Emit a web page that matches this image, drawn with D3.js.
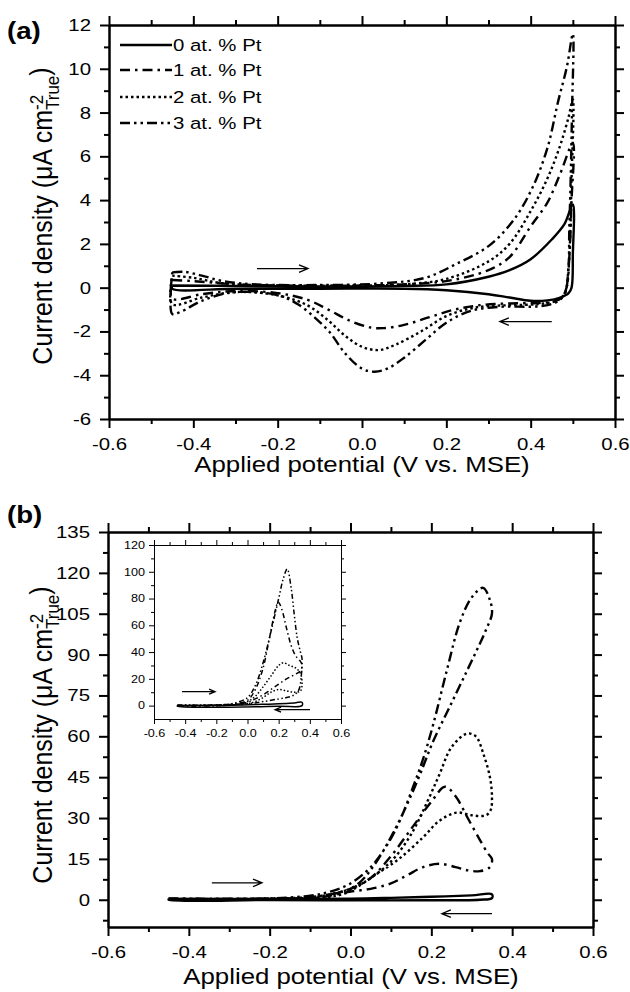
<!DOCTYPE html>
<html>
<head>
<meta charset="utf-8">
<script src="https://cdn.jsdelivr.net/npm/d3@7"></script>
<style>
body { margin: 0; background: #fff; }
text { font-family: "Liberation Sans", Arial, sans-serif; fill: #000; }
</style>
</head>
<body>
<div id="chart"></div>
<script>
// cyclic voltammograms, each loop = [potential (V vs. MSE), current density (uA cm-2)]
// panel (a)
var a0 = [[-0.45,0.1],[-0.3,0.08],[-0.1,0.06],[0.1,0.08],[0.2,0.15],[0.3,0.5],[0.35,0.8],[0.4,1.3],[0.45,2.2],[0.48,2.9],[0.5,3.8],
          [0.5,1.5],[0.497,0],[0.49,-0.25],[0.47,-0.45],[0.44,-0.58],[0.4,-0.6],[0.35,-0.45],[0.3,-0.3],[0.2,-0.12],[0.1,-0.05],
          [-0.1,-0.05],[-0.3,-0.05],[-0.45,-0.05],[-0.45,0.1]];
var a1 = [[-0.45,0.35],[-0.4,0.3],[-0.3,0.15],[-0.2,0.1],[0,0.1],[0.1,0.15],[0.2,0.3],[0.3,0.8],[0.35,1.4],[0.4,2.8],[0.44,3.9],[0.47,5.2],[0.5,6.6],
          [0.497,4],[0.49,1],[0.48,-0.3],[0.46,-0.6],[0.42,-0.7],[0.35,-0.72],[0.28,-0.8],[0.22,-1.0],[0.16,-1.35],[0.1,-1.7],[0.05,-1.85],[0.02,-1.82],
          [-0.03,-1.5],[-0.08,-1.0],[-0.13,-0.55],[-0.2,-0.25],[-0.3,-0.15],[-0.38,-0.3],[-0.45,-0.5],[-0.45,0.35]];
var a2 = [[-0.45,0.55],[-0.4,0.45],[-0.33,0.2],[-0.2,0.1],[0,0.1],[0.1,0.15],[0.2,0.4],[0.3,1.2],[0.35,2.0],[0.4,3.5],[0.44,5.0],[0.47,6.5],[0.49,7.8],[0.5,8.6],
          [0.497,5],[0.49,1],[0.48,-0.3],[0.46,-0.6],[0.42,-0.75],[0.35,-0.8],[0.27,-0.9],[0.2,-1.3],[0.14,-2.0],[0.08,-2.6],[0.04,-2.85],[0,-2.7],
          [-0.04,-2.2],[-0.08,-1.5],[-0.13,-0.8],[-0.2,-0.35],[-0.3,-0.2],[-0.38,-0.45],[-0.45,-0.75],[-0.45,0.55]];
var a3 = [[-0.45,0.7],[-0.42,0.72],[-0.38,0.55],[-0.33,0.3],[-0.25,0.15],[-0.1,0.12],[0.05,0.2],[0.15,0.45],[0.225,1.1],[0.3,1.9],[0.36,3.1],[0.405,4.6],[0.44,6.4],[0.465,8.5],[0.486,10.1],[0.5,11.6],
          [0.498,8],[0.492,3],[0.485,0],[0.47,-0.55],[0.44,-0.8],[0.4,-0.87],[0.33,-0.87],[0.26,-1.05],[0.2,-1.6],[0.15,-2.4],[0.1,-3.2],[0.06,-3.7],[0.03,-3.84],[0,-3.7],
          [-0.04,-3.0],[-0.076,-2.05],[-0.11,-1.4],[-0.15,-0.78],[-0.19,-0.4],[-0.25,-0.2],[-0.32,-0.25],[-0.38,-0.6],[-0.43,-1.1],[-0.45,-1.2],[-0.45,0.7]];

// panel (b)
var b0 = [[-0.45,0.3],[-0.2,0.3],[0,0.4],[0.1,0.7],[0.2,1.1],[0.3,1.6],[0.35,2.0],[0.35,0.6],[0.32,0],[0.2,-0.2],[0,-0.2],[-0.2,-0.1],[-0.45,0],[-0.45,0.3]];
var b1 = [[-0.45,0.3],[-0.2,0.4],[-0.1,0.8],[-0.05,2],[0,4],[0.05,8],[0.1,16],[0.15,26],[0.2,36],[0.234,41.5],[0.26,38],[0.29,30],[0.32,22],[0.34,17],[0.35,15],
          [0.345,12],[0.32,10.5],[0.29,10.8],[0.26,12],[0.22,13.2],[0.18,12],[0.14,9],[0.1,6],[0.05,4],[0,3],[-0.05,1.5],[-0.1,0.5],[-0.45,0]];
var b2 = [[-0.45,0.3],[-0.2,0.3],[-0.1,0.8],[-0.05,2],[0,4],[0.05,8],[0.1,14],[0.15,24],[0.19,36],[0.22,46],[0.25,56],[0.288,61],[0.31,60],[0.33,53],[0.345,45],[0.35,38],
          [0.347,33],[0.335,31],[0.3,31],[0.263,32],[0.22,29],[0.18,23],[0.12,15],[0.06,9],[0.02,5],[-0.02,2],[-0.1,0.5],[-0.45,0]];
var b3 = [[-0.45,0.5],[-0.2,0.5],[-0.1,1.5],[-0.05,3],[0,6],[0.05,12],[0.09,20],[0.122,29],[0.155,41.5],[0.179,51.4],[0.204,64],[0.238,84],[0.271,102],[0.3,111],[0.328,114.5],[0.345,110],[0.35,105],
          [0.335,99],[0.32,94],[0.288,84],[0.246,71],[0.204,58],[0.172,46],[0.14,35],[0.1,23],[0.06,13],[0.02,6],[-0.02,3],[-0.1,1],[-0.45,0.2]];

// inset of (b)
var i0 = [[-0.45,0],[-0.1,0.3],[0.1,1],[0.3,2],[0.35,2.5],[0.35,0],[0.2,-0.5],[-0.45,-0.5],[-0.45,0]];
var i1 = [[-0.45,0],[-0.2,0.3],[-0.1,1],[0,4],[0.05,12],[0.1,28],[0.14,50],[0.18,72],[0.197,77.5],[0.22,72],[0.25,58],[0.28,45],[0.31,37],[0.34,33],[0.35,30],
          [0.34,26],[0.3,23],[0.25,20],[0.2,16],[0.15,12],[0.1,8],[0.05,5],[0,2.5],[-0.1,0.5],[-0.45,-0.5]];
var i2 = [[-0.45,0],[-0.1,0.5],[0,3],[0.05,7],[0.1,14],[0.15,22],[0.2,30],[0.23,32],[0.27,30],[0.31,28],[0.34,24],[0.35,16],
          [0.34,11],[0.3,10],[0.25,11],[0.2,12],[0.15,10],[0.1,6],[0.05,3],[0,1.5],[-0.45,0]];
var i3 = [[-0.45,0.5],[-0.2,0.5],[-0.1,1.5],[0,6],[0.05,15],[0.1,32],[0.15,55],[0.2,80],[0.23,95],[0.255,102],[0.28,88],[0.3,68],[0.32,50],[0.34,40],[0.35,35],
          [0.345,22],[0.33,12],[0.3,8],[0.25,6],[0.2,5],[0.1,3],[0,1.5],[-0.45,0]];

var legendLabels = ["0 at. % Pt", "1 at. % Pt", "2 at. % Pt", "3 at. % Pt"];
var xTicks = [-0.6, -0.4, -0.2, 0.0, 0.2, 0.4, 0.6];
var xMinor = [-0.5, -0.3, -0.1, 0.1, 0.3, 0.5];
var yTicksA = [-6, -4, -2, 0, 2, 4, 6, 8, 10, 12];
var yMinorA = [-5, -3, -1, 1, 3, 5, 7, 9, 11];
var yTicksB = [0, 15, 30, 45, 60, 75, 90, 105, 120, 135];
var yMinorB = [-7.5, 7.5, 22.5, 37.5, 52.5, 67.5, 82.5, 97.5, 112.5, 127.5];
var yTicksIn = [0, 20, 40, 60, 80, 100, 120];
var yMinorIn = [10, 30, 50, 70, 90, 110];

var SX = 1.2; // text in the figure is a bit wider than plain Arial

var svg = d3.select("#chart").append("svg").attr("width", 630).attr("height", 992);

// line styles: solid, dash-dot, dotted, dash-dot-dot
var dashes = [null, "10,5,2.5,5", "2.5,3", "10,4,2.5,4,2.5,4"];
var dashesSmall = [null, "5,3,1.5,3", "1.5,2", "5,2.5,1.5,2.5,1.5,2.5"];

// plain hyphen for negative numbers, like the original
var fx = function (d) { return d3.format(".1f")(d).replace("\u2212", "-"); };
var fy = function (d) { return String(d); };

function frame(g, x, y, o) {
    var w = x.range()[1], h = y.range()[0];
    var sw = o.sw;
    function put(axis, tr) {
        var a = g.append("g").attr("transform", tr).call(axis);
        a.select(".domain").attr("stroke-width", sw).attr("stroke", "#000");
        a.selectAll(".tick line").attr("stroke-width", sw);
        return a;
    }
    // minor ticks
    put(d3.axisBottom(x).tickValues(xMinor).tickSize(o.minor).tickSizeOuter(0).tickFormat(""), `translate(0,${h})`);
    put(d3.axisTop(x).tickValues(xMinor).tickSize(o.minor).tickSizeOuter(0).tickFormat(""), "translate(0,0)");
    put(d3.axisLeft(y).tickValues(o.yMinor).tickSize(o.minor).tickSizeOuter(0).tickFormat(""), "translate(0,0)");
    put(d3.axisRight(y).tickValues(o.yMinor).tickSize(o.minor).tickSizeOuter(0).tickFormat(""), `translate(${w},0)`);
    // major ticks
    var bx = put(d3.axisBottom(x).tickValues(xTicks).tickSize(o.major).tickSizeOuter(0).tickPadding(o.padX).tickFormat(fx), `translate(0,${h})`);
    put(d3.axisTop(x).tickValues(xTicks).tickSize(o.major).tickSizeOuter(0).tickFormat(""), "translate(0,0)");
    var ly = put(d3.axisLeft(y).tickValues(o.yTicks).tickSize(o.major).tickSizeOuter(0).tickFormat(fy), "translate(0,0)");
    put(d3.axisRight(y).tickValues(o.yTicks).tickSize(o.major).tickSizeOuter(0).tickFormat(""), `translate(${w},0)`);
    bx.selectAll("text").attr("font-size", null).style("font-size", o.font + "px")
        .attr("transform", `scale(${SX},1)`);
    ly.selectAll("text").attr("font-size", null).style("font-size", o.font + "px")
        .attr("x", -o.padY / SX).attr("transform", `scale(${SX},1)`);
}

function curves(g, x, y, sets, width, dsh) {
    var line = d3.line()
        .x(function (d) { return x(d[0]); })
        .y(function (d) { return y(d[1]); })
        .curve(d3.curveCatmullRom.alpha(0.5));
    sets.forEach(function (s, i) {
        g.append("path")
            .attr("d", line(s))
            .attr("fill", "none")
            .attr("stroke", "#000")
            .attr("stroke-width", width)
            .attr("stroke-linejoin", "round")
            .attr("stroke-dasharray", dsh[i]);
    });
}

function arrow(g, x1, y1, x2, y2, head) {
    var dir = x2 > x1 ? -1 : 1;
    g.append("path")
        .attr("d", `M${x1},${y1}L${x2},${y2}M${x2 + dir * head},${y1 - head * 0.42}L${x2},${y2}L${x2 + dir * head},${y1 + head * 0.42}`)
        .attr("fill", "none").attr("stroke", "#000").attr("stroke-width", 1.3);
}

function txt(g, x, y, s, size, anchor, weight) {
    return g.append("text")
        .attr("transform", `translate(${x},${y}) scale(${SX},1)`)
        .attr("text-anchor", anchor)
        .style("font-size", size + "px")
        .style("font-weight", weight || "normal")
        .text(s);
}

function yTitle(g, x, y, size) {
    var t = g.append("text")
        .attr("transform", `translate(${x},${y}) scale(1.1,1) rotate(-90)`)
        .attr("text-anchor", "middle")
        .style("font-size", size + "px");
    t.append("tspan").text("Current density (\u03bcA cm");
    var sup = t.append("tspan").attr("dy", "-0.5em").style("font-size", (size * 0.68) + "px").text("-2");
    var sub = t.append("tspan").attr("dy", "0.85em").style("font-size", (size * 0.68) + "px").text("True");
    t.append("tspan").attr("dy", "-0.35em").text(")");
    sub.attr("dx", -sup.node().getComputedTextLength());
}

// ---------- panel (a)
var ga = svg.append("g").attr("transform", "translate(109,25)");
var xa = d3.scaleLinear().domain([-0.6, 0.6]).range([0, 506]);
var ya = d3.scaleLinear().domain([-6, 12]).range([394, 0]);
curves(ga, xa, ya, [a0, a1, a2, a3], 2.4, dashes);
frame(ga, xa, ya, { sw: 2, major: 9, minor: 5, yTicks: yTicksA, yMinor: yMinorA, font: 17, padX: 10, padY: 18 });

arrow(ga, xa(-0.249), ya(0.87), xa(-0.128), ya(0.87), 9);
arrow(ga, xa(0.45), ya(-1.55), xa(0.327), ya(-1.55), 9);

// legend
legendLabels.forEach(function (s, i) {
    var ly = [20, 45, 72, 98][i];
    ga.append("line").attr("x1", 11).attr("x2", 63).attr("y1", ly).attr("y2", ly)
        .attr("stroke", "#000").attr("stroke-width", 2.4).attr("stroke-dasharray", dashes[i]);
    txt(ga, 64, ly + 6, s, 17, "start");
});

txt(svg, 7, 39, "(a)", 23, "start", "bold");
txt(svg, 362, 472, "Applied potential (V vs. MSE)", 21.5, "middle");
yTitle(svg, 52, 216, 25);

// ---------- panel (b)
var gb = svg.append("g").attr("transform", "translate(108,532)");
var xb = d3.scaleLinear().domain([-0.6, 0.6]).range([0, 485]);
var yb = d3.scaleLinear().domain([-10, 135]).range([395, 0]);
curves(gb, xb, yb, [b0, b1, b2, b3], 2.4, dashes);
frame(gb, xb, yb, { sw: 2, major: 9, minor: 5, yTicks: yTicksB, yMinor: yMinorB, font: 17, padX: 10, padY: 18 });

arrow(gb, xb(-0.343), yb(6.2), xb(-0.219), yb(6.2), 9);
arrow(gb, xb(0.35), yb(-5.1), xb(0.226), yb(-5.1), 9);

// inset
var gi = svg.append("g").attr("transform", "translate(154,545)");
var xi = d3.scaleLinear().domain([-0.6, 0.6]).range([0, 187]);
var yi = d3.scaleLinear().domain([-10, 120]).range([174, 0]);
gi.append("rect").attr("width", 187).attr("height", 174).attr("fill", "#fff");
curves(gi, xi, yi, [i0, i1, i2, i3], 1.5, dashesSmall);
frame(gi, xi, yi, { sw: 1, major: 5, minor: 3, yTicks: yTicksIn, yMinor: yMinorIn, font: 10.5, padX: 6, padY: 9 });
arrow(gi, xi(-0.42), yi(10.4), xi(-0.208), yi(10.4), 6);
arrow(gi, xi(0.401), yi(-3), xi(0.177), yi(-3), 6);

txt(svg, 7, 523, "(b)", 23, "start", "bold");
txt(svg, 351, 984, "Applied potential (V vs. MSE)", 21.5, "middle");
yTitle(svg, 52, 735, 25);
</script>
</body>
</html>
